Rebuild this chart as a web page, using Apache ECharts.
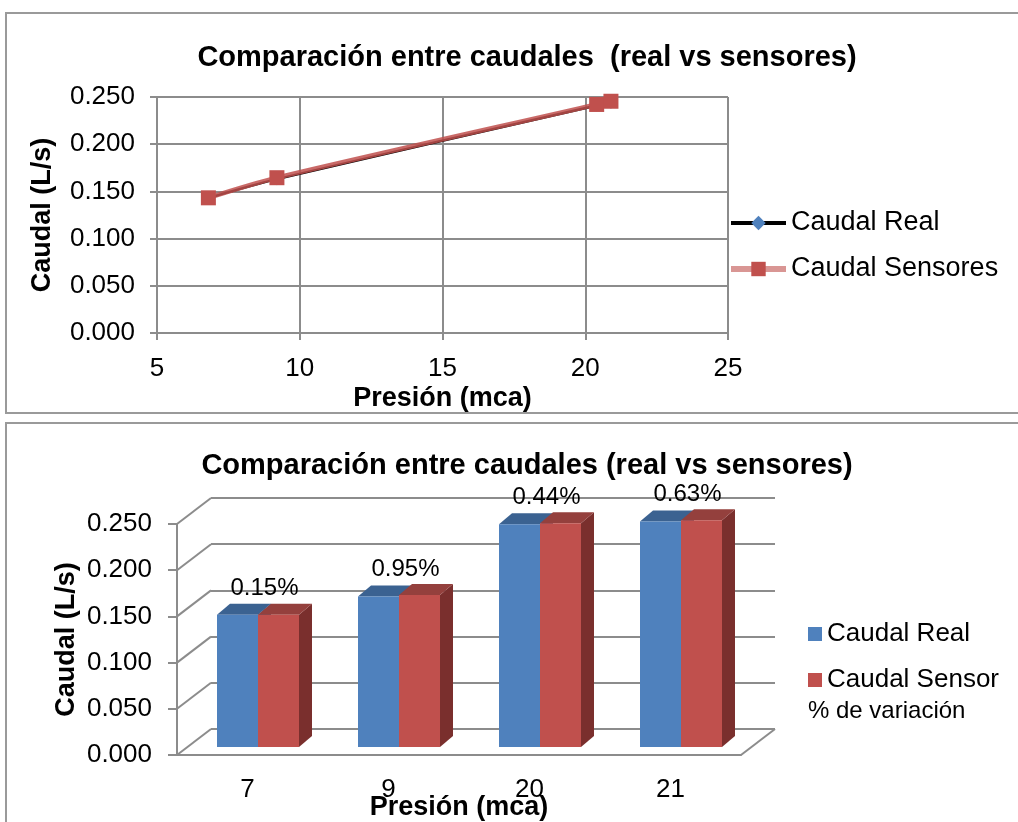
<!DOCTYPE html>
<html>
<head>
<meta charset="utf-8">
<script src="https://cdn.jsdelivr.net/npm/echarts@6/dist/echarts.min.js"></script>
<style>
  html, body { margin: 0; padding: 0; background: #ffffff; }
  #chart { width: 1018px; height: 822px; }
</style>
</head>
<body>
<div id="chart"></div>
<script>
// ---- data ----
const pressure = [6.8, 9.2, 20.4, 20.9];            // mca, measured pressure
const pressureLabels = ['7', '9', '20', '21'];       // rounded pressure categories
const caudalReal = [0.143, 0.163, 0.241, 0.244];     // L/s
const caudalSensor = [0.1432, 0.1645, 0.2421, 0.2455]; // L/s
const variation = [0.15, 0.95, 0.44, 0.63];          // % difference sensor vs real

// ---- styling constants ----
const FONT = "'Liberation Sans', Arial, sans-serif";
const GRID_GRAY = '#8c8c8c';
const BLUE = { front: '#4F81BD', top: '#3B6291', side: '#2f4f77' };
const RED = { front: '#C0504D', top: '#94403D', side: '#7A2F2D' };
const WALL_DEPTH = [34, -26];   // oblique offset of the back wall
const BAR_SHIFT = [10.5, -8];   // bar front face sits a third of the way in
const BAR_DEPTH = [13, -11];    // bar thickness in the oblique view
const BAR_W = 41;

const Y_MIN = 0, Y_MAX = 0.25, Y_STEP = 0.05;
const yTicks = [];
for (let v = Y_MIN; v <= Y_MAX + 1e-9; v += Y_STEP) yTicks.push(+v.toFixed(3));

const chart = echarts.init(document.getElementById('chart'), null, { renderer: 'canvas' });

// oblique prism for one bar of the 3D column chart (k = 0 left, 1 right)
function prism(k, colors) {
  return function (params, api) {
    const i = api.value(0);
    const v = api.value(1);
    const base = api.coord([i, 0]);
    const top = api.coord([i, v]);
    const x0 = base[0] + BAR_SHIFT[0] + (k - 1) * BAR_W;
    const x1 = x0 + BAR_W;
    const yb = base[1] + BAR_SHIFT[1];
    const yt = top[1] + BAR_SHIFT[1];
    const bx = BAR_DEPTH[0], by = BAR_DEPTH[1];
    return {
      type: 'group',
      children: [
        { type: 'polygon', shape: { points: [[x1, yb], [x1 + bx, yb + by], [x1 + bx, yt + by], [x1, yt]] }, style: { fill: colors.side } },
        { type: 'polygon', shape: { points: [[x0, yt], [x1, yt], [x1 + bx, yt + by], [x0 + bx, yt + by]] }, style: { fill: colors.top } },
        { type: 'rect', shape: { x: x0, y: yt, width: BAR_W, height: yb - yt }, style: { fill: colors.front } }
      ]
    };
  };
}

const option = {
  animation: false,
  backgroundColor: '#ffffff',
  textStyle: { fontFamily: FONT },
  graphic: [
    { type: 'rect', silent: true, shape: { x: 6, y: 13, width: 1100, height: 400 }, style: { fill: 'none', stroke: '#9a9a9a', lineWidth: 2 } },
    { type: 'rect', silent: true, shape: { x: 6, y: 423, width: 1100, height: 500 }, style: { fill: 'none', stroke: '#9a9a9a', lineWidth: 2 } }
  ],
  title: [
    {
      text: 'Comparación entre caudales  (real vs sensores)',
      left: 522, top: 38, textAlign: 'center',
      textStyle: { fontFamily: FONT, fontSize: 29, fontWeight: 'bold', color: '#000' }
    },
    {
      text: 'Comparación entre caudales (real vs sensores)',
      left: 522, top: 446, textAlign: 'center',
      textStyle: { fontFamily: FONT, fontSize: 29, fontWeight: 'bold', color: '#000' }
    }
  ],
  legend: [
    {
      data: [
        { name: 'Caudal Real', lineStyle: { color: '#000000', width: 4 } },
        { name: 'Caudal Sensores', lineStyle: { color: '#D99694', width: 6 } }
      ],
      orient: 'vertical', left: 728, top: 208, padding: 0,
      itemWidth: 55, itemHeight: 18, itemGap: 16,
      textStyle: { fontFamily: FONT, fontSize: 27, color: '#000', lineHeight: 30 }
    },
    {
      data: ['Caudal Real', 'Caudal Sensor'],
      orient: 'vertical', left: 808, top: 619, padding: 0,
      icon: 'rect', itemWidth: 14, itemHeight: 14, itemGap: 16,
      textStyle: { fontFamily: FONT, fontSize: 26, color: '#000', lineHeight: 30 }
    },
    {
      data: ['% de variación'],
      orient: 'vertical', left: 803, top: 699, padding: 0,
      icon: 'rect', itemWidth: 0, itemHeight: 0,
      textStyle: { fontFamily: FONT, fontSize: 24, color: '#000' }
    }
  ],
  grid: [
    { left: 157, top: 97, width: 571, height: 236, outerBoundsMode: 'none' },   // line chart
    { left: 177, top: 524, width: 564, height: 231, outerBoundsMode: 'none' },  // column chart, front plane
    { left: 211, top: 498, width: 564, height: 231, outerBoundsMode: 'none' }   // column chart, back wall
  ],
  xAxis: [
    {
      gridIndex: 0, type: 'value', min: 5, max: 25, interval: 5,
      axisLine: { show: true, lineStyle: { color: GRID_GRAY, width: 2 } },
      axisTick: { show: true, length: 7, lineStyle: { color: GRID_GRAY, width: 2 } },
      splitLine: { show: true, lineStyle: { color: GRID_GRAY, width: 2 } },
      axisLabel: { fontFamily: FONT, fontSize: 26, color: '#000', margin: 23 },
      name: 'Presión (mca)', nameLocation: 'middle', nameGap: 52, nameMoveOverlap: false,
      nameTextStyle: { fontFamily: FONT, fontSize: 27, fontWeight: 'bold', color: '#000' }
    },
    {
      gridIndex: 1, type: 'category', data: pressureLabels, boundaryGap: true,
      axisLine: { show: true, lineStyle: { color: GRID_GRAY, width: 2 } },
      axisTick: { show: false },
      splitLine: { show: false },
      axisLabel: { fontFamily: FONT, fontSize: 26, color: '#000', margin: 22 },
      name: 'Presión (mca)', nameLocation: 'middle', nameGap: 39, nameMoveOverlap: false,
      nameTextStyle: { fontFamily: FONT, fontSize: 27, fontWeight: 'bold', color: '#000' }
    },
    {
      gridIndex: 2, type: 'category', data: pressureLabels, show: false
    }
  ],
  yAxis: [
    {
      gridIndex: 0, type: 'value', min: Y_MIN, max: Y_MAX, interval: Y_STEP,
      axisLine: { show: true, lineStyle: { color: GRID_GRAY, width: 2 } },
      axisTick: { show: true, length: 7, lineStyle: { color: GRID_GRAY, width: 2 } },
      splitLine: { show: true, lineStyle: { color: GRID_GRAY, width: 2 } },
      axisLabel: { fontFamily: FONT, fontSize: 26, color: '#000', margin: 22, formatter: v => v.toFixed(3) },
      name: 'Caudal (L/s)', nameLocation: 'middle', nameGap: 101, nameMoveOverlap: false,
      nameTextStyle: { fontFamily: FONT, fontSize: 27, fontWeight: 'bold', color: '#000' }
    },
    {
      gridIndex: 1, type: 'value', min: Y_MIN, max: Y_MAX, interval: Y_STEP,
      axisLine: { show: true, lineStyle: { color: GRID_GRAY, width: 2 } },
      axisTick: { show: true, length: 9, lineStyle: { color: GRID_GRAY, width: 2 } },
      splitLine: { show: false },
      axisLabel: { fontFamily: FONT, fontSize: 26, color: '#000', margin: 25, formatter: v => v.toFixed(3) },
      name: 'Caudal (L/s)', nameLocation: 'middle', nameGap: 97, nameMoveOverlap: false,
      nameTextStyle: { fontFamily: FONT, fontSize: 27, fontWeight: 'bold', color: '#000' }
    },
    {
      gridIndex: 2, type: 'value', min: Y_MIN, max: Y_MAX, interval: Y_STEP,
      axisLine: { show: false }, axisTick: { show: false }, axisLabel: { show: false },
      splitLine: { show: true, lineStyle: { color: GRID_GRAY, width: 2 } }
    }
  ],
  series: [
    {
      name: 'Caudal Real', type: 'line', xAxisIndex: 0, yAxisIndex: 0,
      data: pressure.map((p, i) => [p, caudalReal[i]]),
      smooth: 0.3, symbol: 'diamond', symbolSize: 12,
      itemStyle: { color: '#4F81BD' },
      lineStyle: { color: '#000000', width: 2.5 },
      z: 3
    },
    {
      name: 'Caudal Sensores', type: 'line', xAxisIndex: 0, yAxisIndex: 0,
      data: pressure.map((p, i) => [p, caudalSensor[i]]),
      smooth: 0.3, symbol: 'rect', symbolSize: 15,
      itemStyle: { color: '#C0504D' },
      lineStyle: { color: 'rgba(192,80,77,0.85)', width: 4.5 },
      z: 4
    },
    {
      // left side wall and floor edges of the 3D frame
      type: 'custom', xAxisIndex: 1, yAxisIndex: 1, silent: true, z: 1,
      data: yTicks.map(v => [0, v]),
      encode: { x: 0, y: 1 },
      renderItem: function (params, api) {
        const cs = params.coordSys;
        const y = api.coord([0, api.value(1)])[1];
        const style = { stroke: GRID_GRAY, lineWidth: 2 };
        const children = [{
          type: 'line', shape: { x1: cs.x, y1: y, x2: cs.x + WALL_DEPTH[0], y2: y + WALL_DEPTH[1] }, style
        }];
        if (api.value(1) === Y_MIN) {
          children.push({
            type: 'line', shape: { x1: cs.x + cs.width, y1: y, x2: cs.x + cs.width + WALL_DEPTH[0], y2: y + WALL_DEPTH[1] }, style
          });
        }
        return { type: 'group', children };
      }
    },
    {
      name: 'Caudal Real', type: 'custom', xAxisIndex: 1, yAxisIndex: 1, z: 2,
      itemStyle: { color: BLUE.front },
      data: caudalReal.map((v, i) => [i, v]),
      encode: { x: 0, y: 1 },
      renderItem: prism(0, BLUE)
    },
    {
      name: 'Caudal Sensor', type: 'custom', xAxisIndex: 1, yAxisIndex: 1, z: 3,
      itemStyle: { color: RED.front },
      data: caudalSensor.map((v, i) => [i, v]),
      encode: { x: 0, y: 1 },
      renderItem: prism(1, RED)
    },
    {
      name: '% de variación', type: 'custom', xAxisIndex: 1, yAxisIndex: 1, z: 4,
      itemStyle: { color: 'rgba(0,0,0,0)' },
      data: variation.map((p, i) => [i, Math.max(caudalReal[i], caudalSensor[i]), p]),
      encode: { x: 0, y: 1 },
      renderItem: function (params, api) {
        const i = api.value(0);
        const top = api.coord([i, api.value(1)]);
        return {
          type: 'text',
          x: top[0] + BAR_SHIFT[0] + BAR_DEPTH[0] / 2,
          y: top[1] + BAR_SHIFT[1] - 26,
          style: {
            text: api.value(2).toFixed(2) + '%',
            fill: '#000', font: '24px ' + FONT,
            align: 'center', verticalAlign: 'middle'
          }
        };
      }
    }
  ]
};

chart.setOption(option);
</script>
</body>
</html>
